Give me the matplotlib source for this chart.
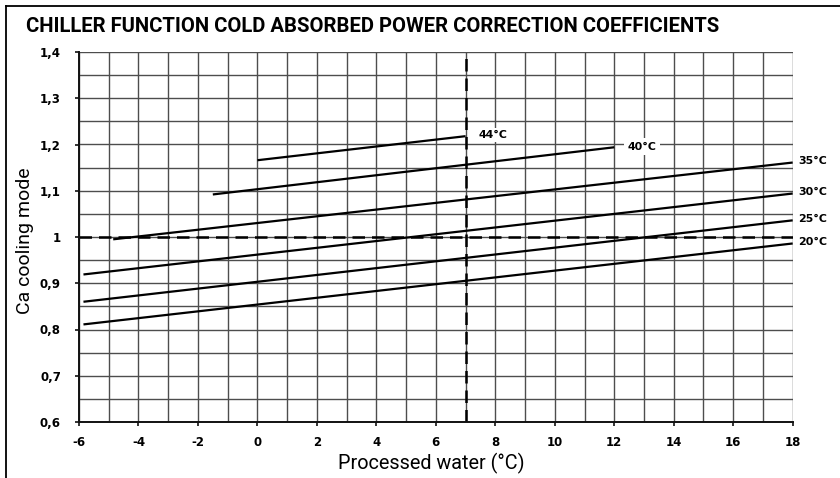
import matplotlib
matplotlib.use("Agg")
import matplotlib.pyplot as plt
from matplotlib.lines import Line2D
import numpy as np

# ---- data ----
series_names = ["20°C", "25°C", "30°C", "35°C", "40°C", "44°C"]
x_start = [-5.85, -5.85, -5.85, -4.85, -1.5, 0.0]
x_end = [18.0, 18.0, 18.0, 18.0, 12.0, 7.0]
y_start = [0.811, 0.860, 0.919, 0.995, 1.092, 1.166]
y_end = [0.986, 1.036, 1.094, 1.161, 1.194, 1.218]

x_ticks = [-6, -4, -2, 0, 2, 4, 6, 8, 10, 12, 14, 16, 18]
x_tick_labels = ["-6", "-4", "-2", "0", "2", "4", "6", "8", "10", "12", "14", "16", "18"]
y_ticks = [0.6, 0.7, 0.8, 0.9, 1.0, 1.1, 1.2, 1.3, 1.4]
y_tick_labels = ["0,6", "0,7", "0,8", "0,9", "1", "1,1", "1,2", "1,3", "1,4"]

ref_x = 7.0
ref_y = 1.0

title = "CHILLER FUNCTION COLD ABSORBED POWER CORRECTION COEFFICIENTS"
xlabel = "Processed water (°C)"
ylabel = "Ca cooling mode"

W, H = 840, 478
fig = plt.figure(figsize=(8.4, 4.78), dpi=100)
ax = fig.add_axes([79 / W, 1 - 422 / H, (792.7 - 79) / W, (422 - 52) / H])

ax.set_xlim(-6, 18)
ax.set_ylim(0.6, 1.4)

grid_c = "#4d4d4d"
for gx in np.arange(-6, 19, 1):
    ax.axvline(gx, color=grid_c, lw=1.0, zorder=1)
for gy in np.arange(0.6, 1.4001, 0.05):
    ax.axhline(gy, color=grid_c, lw=1.0, zorder=1)

for s in ["top", "right"]:
    ax.spines[s].set_visible(False)
for s in ["left", "bottom"]:
    ax.spines[s].set_linewidth(1.4)
    ax.spines[s].set_color("#111111")
    ax.spines[s].set_zorder(5)

ax.set_xticks(x_ticks)
ax.set_xticklabels(x_tick_labels)
ax.set_yticks(y_ticks)
ax.set_yticklabels(y_tick_labels)
ax.tick_params(axis="both", direction="out", length=3, width=1.2, color="#111111",
               labelsize=8.5, pad=4)
for lab in ax.get_xticklabels() + ax.get_yticklabels():
    lab.set_fontweight("bold")
    lab.set_family("DejaVu Sans")
ax.tick_params(axis="y", pad=10)
ax.tick_params(axis="x", pad=7)

# reference dashed lines
ax.axvline(ref_x, color="black", lw=1.8, dashes=(5, 2.8), zorder=3)
ax.axhline(ref_y, color="black", lw=1.8, dashes=(5, 2.8), zorder=3)

# curves
for name, xs, xe, ys, ye in zip(series_names, x_start, x_end, y_start, y_end):
    ax.plot([xs, xe], [ys, ye], color="black", lw=1.6, zorder=4, solid_capstyle="butt")

# curve labels
lab_kw = dict(fontsize=7.9, fontweight="bold", family="DejaVu Sans", va="center", ha="left",
              clip_on=False, zorder=6)
for name, xe, ye in zip(series_names, x_end, y_end):
    if xe >= 18:
        ax.text(xe + 0.18, ye + 0.003, name, **lab_kw)
    elif name == "40°C":
        ax.text(xe + 0.45, ye + 0.001, name,
                bbox=dict(facecolor="white", edgecolor="none", pad=2.5), **lab_kw)
    else:
        ax.text(xe + 0.45, ye + 0.003, name,
                bbox=dict(facecolor="white", edgecolor="none", pad=1.5), **lab_kw)

# title and axis labels
fig.text(26 / W, 1 - 26.5 / H, title, fontsize=14.6, fontweight="bold", family="Roboto",
         ha="left", va="center")
fig.text(431 / W, 1 - 463 / H, xlabel, fontsize=14.3, family="Roboto", ha="center", va="center")
fig.text(25 / W, 1 - 240.5 / H, ylabel, fontsize=14.0, family="Roboto", ha="center", va="center",
         rotation=90)

# frame lines (top and left)
fig.add_artist(Line2D([6 / W, 1.0], [1 - 6 / H, 1 - 6 / H], transform=fig.transFigure,
                      color="black", lw=1.3))
fig.add_artist(Line2D([6 / W, 6 / W], [0.0, 1 - 6 / H], transform=fig.transFigure,
                      color="black", lw=1.3))

fig.savefig("out.png", dpi=100, facecolor="white")
